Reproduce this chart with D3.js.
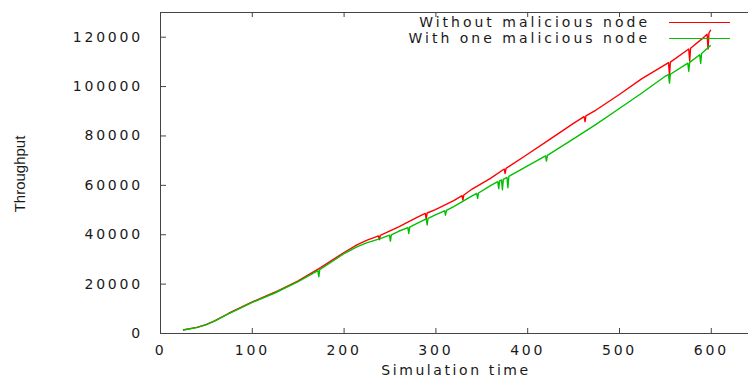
<!DOCTYPE html>
<html>
<head>
<meta charset="utf-8">
<script src="https://cdn.jsdelivr.net/npm/d3@7"></script>
<style>
  html, body { margin: 0; padding: 0; background: #fff; }
  #chart { width: 748px; height: 380px; }
</style>
</head>
<body>
<div id="chart"></div>
<script>
// Data (simulation time, throughput)
const seriesNames = ['Without malicious node', 'With one malicious node'];
const seriesColors = ['#ff0000', '#00c000'];

const withoutMalicious = [
  [25, 1200], [40, 2300], [50, 3400], [60, 5000], [75, 8000], [100, 12500],
  [125, 16500], [150, 21000], [175, 26500], [200, 32500], [215, 35800], [225, 37500],
  [238, 39300], [239, 37800], [240, 39500], [260, 43000], [280, 46800],
  [289, 48400], [290, 46200], [291, 48600], [300, 50000], [320, 53600],
  [329, 55600], [330, 53800], [331, 55900], [340, 58300], [360, 62600],
  [375, 66400], [376, 64600], [377, 66700], [400, 72300], [425, 78500],
  [450, 84800], [462, 87600], [463, 85600], [464, 87900], [475, 90300],
  [500, 96500], [525, 103000], [550, 108600], [554, 109500], [555, 104500],
  [556, 109700], [576, 115000], [577, 110200], [578, 115300], [590, 119000],
  [596, 121000], [597, 115000], [598, 121500], [600, 122800]
];

const withOneMalicious = [
  [25, 1200], [40, 2200], [50, 3300], [60, 4900], [75, 7800], [100, 12300],
  [125, 16200], [150, 20700], [172, 25300], [173, 22800], [174, 25600],
  [200, 32000], [215, 35000], [225, 36500], [240, 38200], [250, 39600],
  [251, 37200], [252, 39700], [260, 41200], [270, 42700], [271, 40300],
  [272, 42900], [280, 44400], [290, 46200], [291, 43800], [292, 46400],
  [300, 47800], [310, 49500], [311, 47700], [312, 49700], [320, 51200],
  [340, 55500], [345, 56500], [346, 54500], [347, 56700], [360, 59700],
  [368, 61300], [369, 58500], [370, 61600], [372, 62000], [373, 58000],
  [374, 62200], [378, 63000], [379, 58800], [380, 63400], [400, 67600],
  [420, 71700], [421, 69600], [422, 71900], [450, 78500], [475, 84500],
  [500, 90800], [525, 97200], [550, 103900], [554, 104600], [555, 101200],
  [556, 104800], [575, 109300], [576, 106000], [577, 109600], [588, 112700],
  [589, 109200], [590, 113200], [600, 116500]
];

const xTicks = [0, 100, 200, 300, 400, 500, 600];
const yTicks = [0, 20000, 40000, 60000, 80000, 100000, 120000];

const width = 748;
const height = 380;
const plotLeft = 160, plotTop = 12, plotBottom = 333;

const x = d3.scaleLinear().domain([0, 640]).range([plotLeft, 747.5]);
const y = d3.scaleLinear().domain([0, 130000]).range([plotBottom, plotTop]);

const svg = d3.select('#chart')
  .append('svg')
  .attr('width', width)
  .attr('height', height)
  .style('font-family', 'DejaVu Sans')
  .style('font-size', '14px');

const axisColor = '#444';
const textColor = '#1a1a1a';

// bottom axis with inward ticks
const xAxis = svg.append('g')
  .attr('transform', 'translate(0,' + plotBottom + ')')
  .call(d3.axisBottom(x).tickValues(xTicks).tickSizeInner(-5).tickSizeOuter(0).tickPadding(12));
xAxis.select('.domain').attr('stroke', axisColor);
xAxis.selectAll('.tick line').attr('stroke', axisColor);
xAxis.selectAll('text')
  .attr('fill', textColor)
  .style('font-size', '14px')
  .style('letter-spacing', '2.8px')
  .style('font-family', 'DejaVu Sans');

// left axis
const yAxis = svg.append('g')
  .attr('transform', 'translate(' + plotLeft + ',0)')
  .call(d3.axisLeft(y).tickValues(yTicks).tickSizeInner(-6).tickSizeOuter(0).tickPadding(17).tickFormat(d3.format('d')));
yAxis.select('.domain').attr('stroke', axisColor);
yAxis.selectAll('.tick line').attr('stroke', axisColor);
yAxis.selectAll('text')
  .attr('fill', textColor)
  .style('font-size', '14px')
  .style('letter-spacing', '2.8px')
  .style('font-family', 'DejaVu Sans');

// top border with mirrored ticks
const topAxis = svg.append('g')
  .attr('transform', 'translate(0,' + plotTop + ')')
  .call(d3.axisTop(x).tickValues(xTicks).tickSizeInner(-5).tickSizeOuter(0).tickFormat(''));
topAxis.select('.domain').attr('stroke', axisColor);
topAxis.selectAll('.tick line').attr('stroke', axisColor);

// series lines
const line = d3.line()
  .x(d => x(d[0]))
  .y(d => y(d[1]));

[withoutMalicious, withOneMalicious].forEach((data, i) => {
  svg.append('path')
    .datum(data)
    .attr('fill', 'none')
    .attr('stroke', seriesColors[i])
    .attr('stroke-width', 1.4)
    .attr('stroke-linejoin', 'round')
    .attr('d', line);
});

// legend
const legend = svg.append('g');
seriesNames.forEach((name, i) => {
  const ly = 22.5 + i * 16;
  legend.append('text')
    .attr('x', 650)
    .attr('y', ly + 4.5)
    .attr('text-anchor', 'end')
    .attr('fill', textColor)
    .style('letter-spacing', '3px')
    .text(name);
  legend.append('line')
    .attr('x1', 669)
    .attr('x2', 730)
    .attr('y1', ly)
    .attr('y2', ly)
    .attr('stroke', seriesColors[i])
    .attr('stroke-width', 1);
});

// axis titles
svg.append('text')
  .attr('x', 456)
  .attr('y', 375)
  .attr('text-anchor', 'middle')
  .attr('fill', textColor)
  .style('letter-spacing', '2.6px')
  .text('Simulation time');

svg.append('text')
  .attr('transform', 'translate(25,174) rotate(-90)')
  .attr('text-anchor', 'middle')
  .attr('fill', textColor)
  .style('font-family', 'Liberation Sans')
  .style('font-size', '15px')
  .text('Throughput');
</script>
</body>
</html>
